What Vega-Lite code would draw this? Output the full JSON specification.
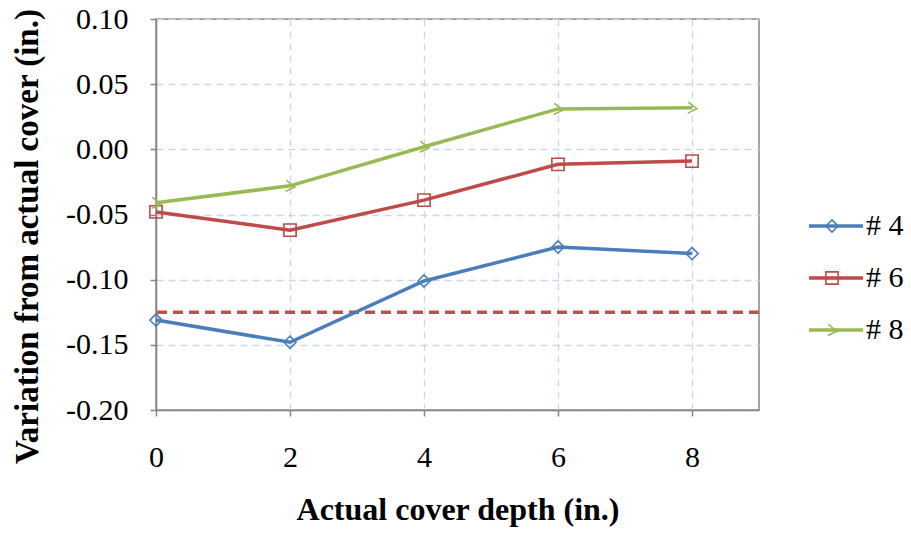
{
  "$schema": "https://vega.github.io/schema/vega-lite/v6.json",
  "width": 603,
  "height": 391,
  "autosize": {"type": "none"},
  "padding": {"left": 156, "top": 19, "right": 152, "bottom": 126},
  "background": "white",
  "config": {
    "font": "Liberation Serif",
    "view": {"stroke": "#868686", "strokeWidth": 1.5},
    "axis": {
      "labelFont": "Liberation Serif",
      "titleFont": "Liberation Serif",
      "labelFontSize": 30,
      "titleFontSize": 32,
      "labelColor": "#000",
      "titleColor": "#000",
      "titleFontWeight": "bold",
      "domainColor": "#868686",
      "domainWidth": 1.5,
      "tickColor": "#868686",
      "tickWidth": 1.5,
      "tickSize": 6,
      "gridColor": "#C9D7EA",
      "gridDash": [7, 5],
      "gridWidth": 1.3
    },
    "legend": {
      "labelFont": "Liberation Serif",
      "labelFontSize": 30,
      "labelColor": "#000"
    }
  },
  "data": {
    "values": [
      {"depth": 0, "variation": -0.131, "series": "# 4"},
      {"depth": 2, "variation": -0.148, "series": "# 4"},
      {"depth": 4, "variation": -0.101, "series": "# 4"},
      {"depth": 6, "variation": -0.075, "series": "# 4"},
      {"depth": 8, "variation": -0.080, "series": "# 4"},
      {"depth": 0, "variation": -0.048, "series": "# 6"},
      {"depth": 2, "variation": -0.062, "series": "# 6"},
      {"depth": 4, "variation": -0.039, "series": "# 6"},
      {"depth": 6, "variation": -0.0115, "series": "# 6"},
      {"depth": 8, "variation": -0.009, "series": "# 6"},
      {"depth": 0, "variation": -0.041, "series": "# 8"},
      {"depth": 2, "variation": -0.028, "series": "# 8"},
      {"depth": 4, "variation": 0.002, "series": "# 8"},
      {"depth": 6, "variation": 0.031, "series": "# 8"},
      {"depth": 8, "variation": 0.032, "series": "# 8"}
    ]
  },
  "resolve": {"scale": {"color": "independent"}},
  "layer": [
    {
      "data": {"values": [{"limit": -0.125}]},
      "mark": {"type": "rule", "color": "#C0504D", "strokeWidth": 3.5, "strokeDash": [10, 6]},
      "encoding": {
        "y": {"field": "limit", "type": "quantitative", "scale": {"domain": [-0.2, 0.1]}}
      }
    },
    {
      "mark": {"type": "line", "strokeWidth": 3.5},
      "encoding": {
        "x": {
          "field": "depth", "type": "quantitative",
          "scale": {"domain": [0, 9], "nice": false},
          "axis": {"values": [0, 2, 4, 6, 8], "format": "d", "labelFlush": false, "title": "Actual cover depth (in.)", "labelPadding": 26, "titlePadding": 22}
        },
        "y": {
          "field": "variation", "type": "quantitative",
          "scale": {"domain": [-0.2, 0.1], "nice": false},
          "axis": {"values": [-0.2, -0.15, -0.1, -0.05, 0, 0.05, 0.1], "labelFlush": false, "labelExpr": "replace(format(datum.value, '.2f'), '\u2212', '-')", "title": "Variation from actual cover (in.)", "titleFontSize": 33, "titleY": 217, "labelPadding": 22, "titlePadding": 21}
        },
        "color": {
          "field": "series", "type": "nominal",
          "scale": {"domain": ["# 4", "# 6", "# 8"], "range": ["#4A7EBB", "#BE4B48", "#98B954"]},
          "legend": {"title": null, "orient": "none", "legendX": 651, "legendY": 178, "symbolType": "stroke", "symbolSize": 2916, "symbolStrokeWidth": 3.5, "rowPadding": 8, "labelOffset": 1, "labelLimit": 200}
        }
      }
    },
    {
      "mark": {"type": "point", "filled": false, "strokeWidth": 1.6, "size": 150, "opacity": 1},
      "encoding": {
        "x": {"field": "depth", "type": "quantitative"},
        "y": {"field": "variation", "type": "quantitative"},
        "color": {
          "field": "series", "type": "nominal",
          "scale": {"domain": ["# 4", "# 6", "# 8"], "range": ["#4A7EBB", "#BE4B48", "#98B954"]},
          "legend": null
        },
        "shape": {
          "field": "series", "type": "nominal",
          "scale": {"domain": ["# 4", "# 6", "# 8"], "range": ["diamond", "square", "M-0.6,-0.9 L0.8,0.2 L-0.7,0.9"]},
          "legend": {"title": null, "orient": "none", "legendX": 661, "legendY": 192, "symbolSize": 150, "symbolStrokeWidth": 1.6, "rowPadding": 22, "labelExpr": "''", "symbolFillColor": "white", "symbolStrokeColor": {"expr": "datum.value === '# 4' ? '#4A7EBB' : datum.value === '# 6' ? '#BE4B48' : '#98B954'"}}
        }
      }
    }
  ]
}
